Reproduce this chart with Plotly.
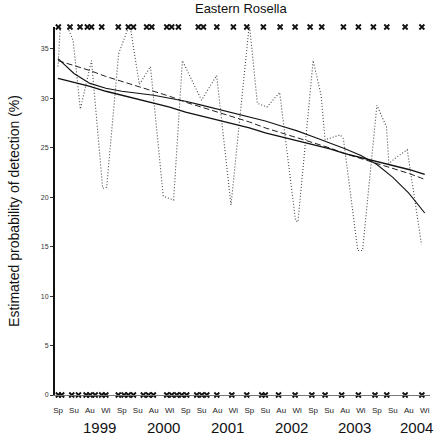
import plotly.graph_objects as go

# Season axis: four seasons per year, 1999-2004
seasons = ["Sp", "Su", "Au", "Wi"] * 6
years = ["1999", "2000", "2001", "2002", "2003", "2004"]
year_pos = [2.6, 6.6, 10.65, 14.65, 18.6, 22.5]

# Seasonal detection estimates (%) - dotted series, time in season units
obs_t = [0.0, 0.15, 0.6, 0.95, 1.4, 2.1, 2.8, 3.05, 3.8, 4.5, 5.1, 5.8, 6.6, 7.25,
         7.8, 9.0, 9.95, 10.85, 12.0, 12.5, 13.1, 13.9, 14.9, 15.05, 16.0, 16.5,
         16.75, 17.7, 17.9, 18.8, 19.1, 20.0, 20.6, 20.75, 21.2, 21.9, 22.8]
obs_v = [33.2, 37.5, 37.2, 35.8, 28.9, 33.8, 20.9, 21.0, 34.5, 37.5, 31.4, 33.2, 20.1, 19.7,
         33.8, 29.8, 32.3, 19.2, 37.5, 29.5, 29.1, 30.6, 17.6, 17.5, 33.8, 30.3,
         25.8, 26.3, 25.9, 14.6, 14.6, 29.3, 27.1, 23.4, 24.0, 24.8, 15.2]

# Fitted trends (%), one value per season
season_idx = list(range(24))
trend_cubic = [34.0, 32.5, 31.5, 31.0, 30.7, 30.5, 30.3, 30.0, 29.7, 29.3, 28.9, 28.5,
               28.1, 27.7, 27.2, 26.7, 26.1, 25.5, 24.9, 24.2, 23.3, 22.0, 20.4, 18.4]
trend_linear = [32.0, 31.6, 31.2, 30.7, 30.3, 29.9, 29.5, 29.1, 28.6, 28.2, 27.8, 27.4,
                27.0, 26.5, 26.1, 25.7, 25.3, 24.9, 24.4, 24.0, 23.6, 23.2, 22.8, 22.3]
trend_dashed = [33.8, 33.3, 32.8, 32.2, 31.7, 31.2, 30.7, 30.2, 29.6, 29.1, 28.6, 28.1,
                27.6, 27.0, 26.5, 26.0, 25.5, 25.0, 24.4, 23.9, 23.4, 22.9, 22.4, 21.8]

# Individual surveys: detected (top row) and not detected (bottom row)
detected_t = [0.02, 0.75, 1.38, 1.84, 2.1, 2.74, 3.78, 4.41, 4.73, 5.56, 5.88, 6.82,
              7.13, 7.55, 8.8, 9.12, 9.96, 11.0, 11.84, 12.88, 13.93, 14.87, 15.81,
              16.54, 17.9, 18.84, 19.78, 20.62, 21.77, 22.82]
missed_t = [0.02, 0.23, 0.86, 1.28, 1.76, 2.01, 2.33, 2.74, 3.0, 3.78, 4.14, 4.41, 4.73,
            5.35, 5.67, 5.98, 6.82, 7.13, 7.45, 7.76, 8.07, 8.7, 9.02, 9.33, 9.96, 10.9,
            11.84, 12.78, 13.0, 13.83, 14.87, 15.92, 16.75, 17.79, 18.84, 19.88, 20.62,
            21.77, 22.82]

Y_TOP = 37.2
FONT = "Liberation Sans, Arial, sans-serif"

fig = go.Figure()

fig.add_trace(go.Scatter(x=obs_t, y=obs_v, mode="lines",
                         line=dict(color="#444444", width=1.1, dash="1px,2px")))
fig.add_trace(go.Scatter(x=season_idx, y=trend_dashed, mode="lines",
                         line=dict(color="#222222", width=1, dash="6px,3px")))
fig.add_trace(go.Scatter(x=season_idx, y=trend_linear, mode="lines",
                         line=dict(color="#111111", width=1.4)))
fig.add_trace(go.Scatter(x=season_idx, y=trend_cubic, mode="lines",
                         line=dict(color="#111111", width=1.1)))

survey_marker = dict(symbol="x-thin-open", size=5, color="#111111",
                     line=dict(width=1.8, color="#111111"))
fig.add_trace(go.Scatter(x=detected_t, y=[Y_TOP] * len(detected_t), mode="markers",
                         cliponaxis=False, marker=survey_marker))
fig.add_trace(go.Scatter(x=missed_t, y=[0] * len(missed_t), mode="markers",
                         cliponaxis=False, marker=survey_marker))

for yr, xp in zip(years, year_pos):
    fig.add_annotation(x=xp, y=0, xref="x", yref="paper", yshift=-22,
                       yanchor="top", text=yr, showarrow=False,
                       font=dict(family=FONT, size=15, color="#111111"))

fig.update_layout(
    width=434, height=435,
    margin=dict(l=55, r=4, t=27, b=40),
    paper_bgcolor="white", plot_bgcolor="white",
    showlegend=False,
    title=dict(text="Eastern Rosella", x=0.555, xanchor="center", y=0.992, yanchor="top",
               font=dict(family=FONT, size=13, color="#111111")),
    font=dict(family=FONT, color="#111111"),
)

fig.update_xaxes(range=[-0.19, 23.33], tickvals=season_idx, ticktext=seasons,
                 showgrid=False, zeroline=False, showline=True,
                 linecolor="#777777", linewidth=1,
                 ticks="outside", ticklen=7, tickcolor="rgba(0,0,0,0)",
                 tickfont=dict(family=FONT, size=8, color="#222222"))
fig.update_yaxes(range=[0, Y_TOP], tickvals=[0, 5, 10, 15, 20, 25, 30, 35],
                 showgrid=False, zeroline=False, showline=True,
                 linecolor="#111111", linewidth=2, ticks="outside", ticklen=3,
                 tickcolor="#333333", tickwidth=1,
                 tickfont=dict(family=FONT, size=7, color="#333333"),
                 title=dict(text="Estimated probability of detection (%)", standoff=18,
                            font=dict(family=FONT, size=14, color="#111111")))

fig.write_html("out.html")
